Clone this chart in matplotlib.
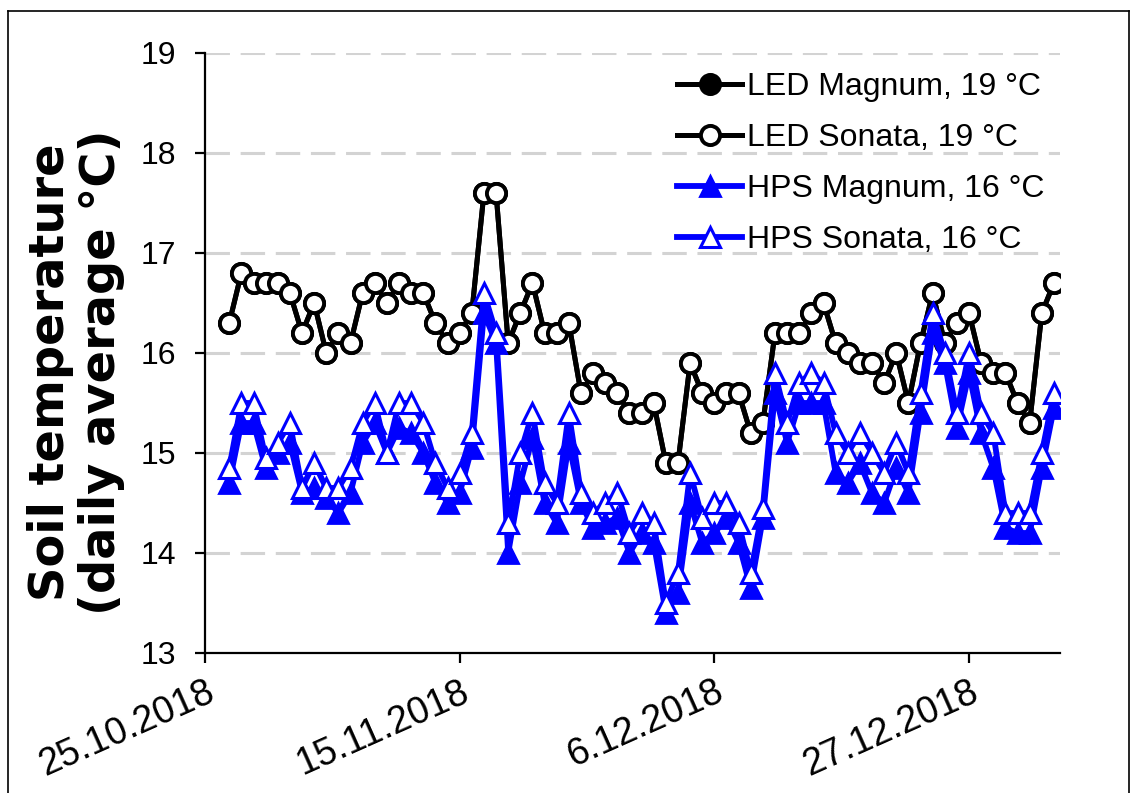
import matplotlib
matplotlib.use("Agg")
import matplotlib.pyplot as plt
from matplotlib.lines import Line2D
import pandas as pd

# ---- data ----
dates = pd.date_range("2018-10-27", "2019-01-03", freq="D")

led_magnum = [16.3, 16.8, 16.7, 16.7, 16.7, 16.6, 16.2, 16.5, 16.0, 16.2, 16.1, 16.6, 16.7, 16.5,
              16.7, 16.6, 16.6, 16.3, 16.1, 16.2, 16.4, 17.6, 17.6, 16.1, 16.4, 16.7, 16.2, 16.2,
              16.3, 15.6, 15.8, 15.7, 15.6, 15.4, 15.4, 15.5, 14.9, 14.9, 15.9, 15.6, 15.5, 15.6,
              15.6, 15.2, 15.3, 16.2, 16.2, 16.2, 16.4, 16.5, 16.1, 16.0, 15.9, 15.9, 15.7, 16.0,
              15.5, 16.1, 16.6, 16.1, 16.3, 16.4, 15.9, 15.8, 15.8, 15.5, 15.3, 16.4, 16.7]
led_sonata = [16.3, 16.8, 16.7, 16.7, 16.7, 16.6, 16.2, 16.5, 16.0, 16.2, 16.1, 16.6, 16.7, 16.5,
              16.7, 16.6, 16.6, 16.3, 16.1, 16.2, 16.4, 17.6, 17.6, 16.1, 16.4, 16.7, 16.2, 16.2,
              16.3, 15.6, 15.8, 15.7, 15.6, 15.4, 15.4, 15.5, 14.9, 14.9, 15.9, 15.6, 15.5, 15.6,
              15.6, 15.2, 15.3, 16.2, 16.2, 16.2, 16.4, 16.5, 16.1, 16.0, 15.9, 15.9, 15.7, 16.0,
              15.5, 16.1, 16.6, 16.1, 16.3, 16.4, 15.9, 15.8, 15.8, 15.5, 15.3, 16.4, 16.7]
hps_magnum = [14.7, 15.3, 15.3, 14.85, 15.0, 15.1, 14.6, 14.65, 14.55, 14.4, 14.6, 15.1, 15.3, 15.0,
              15.25, 15.2, 15.0, 14.7, 14.5, 14.6, 15.05, 16.4, 16.1, 14.0, 14.7, 15.15, 14.5, 14.3,
              15.1, 14.5, 14.25, 14.3, 14.35, 14.0, 14.2, 14.1, 13.4, 13.6, 14.5, 14.1, 14.2, 14.35,
              14.1, 13.65, 14.35, 15.6, 15.1, 15.5, 15.5, 15.5, 14.8, 14.7, 14.9, 14.6, 14.5, 14.85,
              14.6, 15.4, 16.2, 15.9, 15.25, 15.8, 15.2, 14.85, 14.25, 14.2, 14.2, 14.85, 15.45]
hps_sonata = [14.85, 15.5, 15.5, 14.95, 15.1, 15.3, 14.65, 14.9, 14.65, 14.65, 14.85, 15.3, 15.5, 15.0,
              15.5, 15.5, 15.3, 14.9, 14.65, 14.8, 15.2, 16.6, 16.2, 14.3, 15.0, 15.4, 14.7, 14.5,
              15.4, 14.6, 14.4, 14.5, 14.6, 14.2, 14.4, 14.3, 13.5, 13.8, 14.8, 14.35, 14.5, 14.5,
              14.3, 13.8, 14.45, 15.8, 15.3, 15.7, 15.8, 15.7, 15.2, 15.0, 15.2, 15.0, 14.8, 15.1,
              14.8, 15.6, 16.4, 16.0, 15.4, 16.0, 15.4, 15.2, 14.4, 14.4, 14.4, 15.0, 15.6]

labels = ["LED Magnum, 19 °C", "LED Sonata, 19 °C", "HPS Magnum, 16 °C", "HPS Sonata, 16 °C"]
xtick_dates = ["2018-10-25", "2018-11-15", "2018-12-06", "2018-12-27"]
xtick_labels = ["25.10.2018", "15.11.2018", "6.12.2018", "27.12.2018"]
yticks = [13, 14, 15, 16, 17, 18, 19]
ylabel = "Soil temperature\n(daily average °C)"

# ---- figure ----
plt.rcParams['font.family'] = ['Liberation Sans', 'DejaVu Sans']
W, H = 1133, 793
fig = plt.figure(figsize=(W / 100, H / 100), dpi=100)
ax = fig.add_axes([205 / W, 1 - 653 / H, (1060 - 205) / W, 600 / H])

blue = "#0000FF"
lw_black = 3.6
lw_blue = 4.2
ms_c = 13.8
ms_t = 14.8

ax.plot(dates, led_magnum, color="black", lw=lw_black, marker="o", ms=ms_c,
        mfc="black", mec="black", mew=2.8, zorder=3)
ax.plot(dates, led_sonata, color="black", lw=lw_black, marker="o", ms=ms_c,
        mfc="white", mec="black", mew=2.8, zorder=4)
ax.plot(dates, hps_magnum, color=blue, lw=lw_blue, marker="^", ms=ms_t,
        mfc=blue, mec=blue, mew=2.0, zorder=5)
ax.plot(dates, hps_sonata, color=blue, lw=lw_blue, marker="^", ms=ms_t,
        mfc="white", mec=blue, mew=2.2, zorder=6)

ax.set_ylim(13, 19)
ax.set_yticks(yticks)
ax.set_yticklabels([str(v) for v in yticks], fontsize=23)
start = pd.Timestamp("2018-10-25")
ax.set_xlim(start, start + pd.Timedelta(days=70.5))
ax.set_xticks(pd.to_datetime(xtick_dates))
ax.set_xticklabels(xtick_labels, fontsize=27, rotation=24, ha="right",
                   va="top", rotation_mode="anchor")

for y in yticks[1:]:
    ax.axhline(y, color="#d3d3d3", lw=2.2, ls=(0, (8, 3.5)), zorder=1)

for s in ["top", "right"]:
    ax.spines[s].set_visible(False)
ax.spines["left"].set_linewidth(1.6)
ax.spines["bottom"].set_linewidth(1.6)
ax.tick_params(axis="y", direction="out", length=7, width=1.6, pad=14)
ax.tick_params(axis="x", direction="out", length=7, width=1.6, pad=8)

fig.text(76 / W, 1 - 372 / H, ylabel, rotation=90, ha="center", va="center",
         multialignment="center", fontsize=34.5, fontweight="bold",
         family="DejaVu Sans", linespacing=1.12)

handles = [
    Line2D([], [], color="black", lw=lw_black, marker="o", ms=ms_c, mfc="black", mec="black", mew=2.8),
    Line2D([], [], color="black", lw=lw_black, marker="o", ms=ms_c, mfc="white", mec="black", mew=2.8),
    Line2D([], [], color=blue, lw=lw_blue, marker="^", ms=ms_t, mfc=blue, mec=blue, mew=2.0),
    Line2D([], [], color=blue, lw=lw_blue, marker="^", ms=ms_t, mfc="white", mec=blue, mew=2.2),
]
fig.legend(handles, labels, loc="upper left", bbox_to_anchor=(677 / W, 1 - 72 / H),
           frameon=False, fontsize=23, borderpad=0, handlelength=2.05,
           handletextpad=0.15, labelspacing=0.66, borderaxespad=0)

# outer border
fig.add_artist(Line2D([8 / W, 8 / W], [0, 1 - 11 / H], color="black", lw=1.2, transform=fig.transFigure))
fig.add_artist(Line2D([8 / W, 1129 / W], [1 - 11 / H, 1 - 11 / H], color="black", lw=1.2, transform=fig.transFigure))
fig.add_artist(Line2D([1129 / W, 1129 / W], [0, 1 - 11 / H], color="black", lw=1.2, transform=fig.transFigure))

fig.savefig("out.png", dpi=100)
